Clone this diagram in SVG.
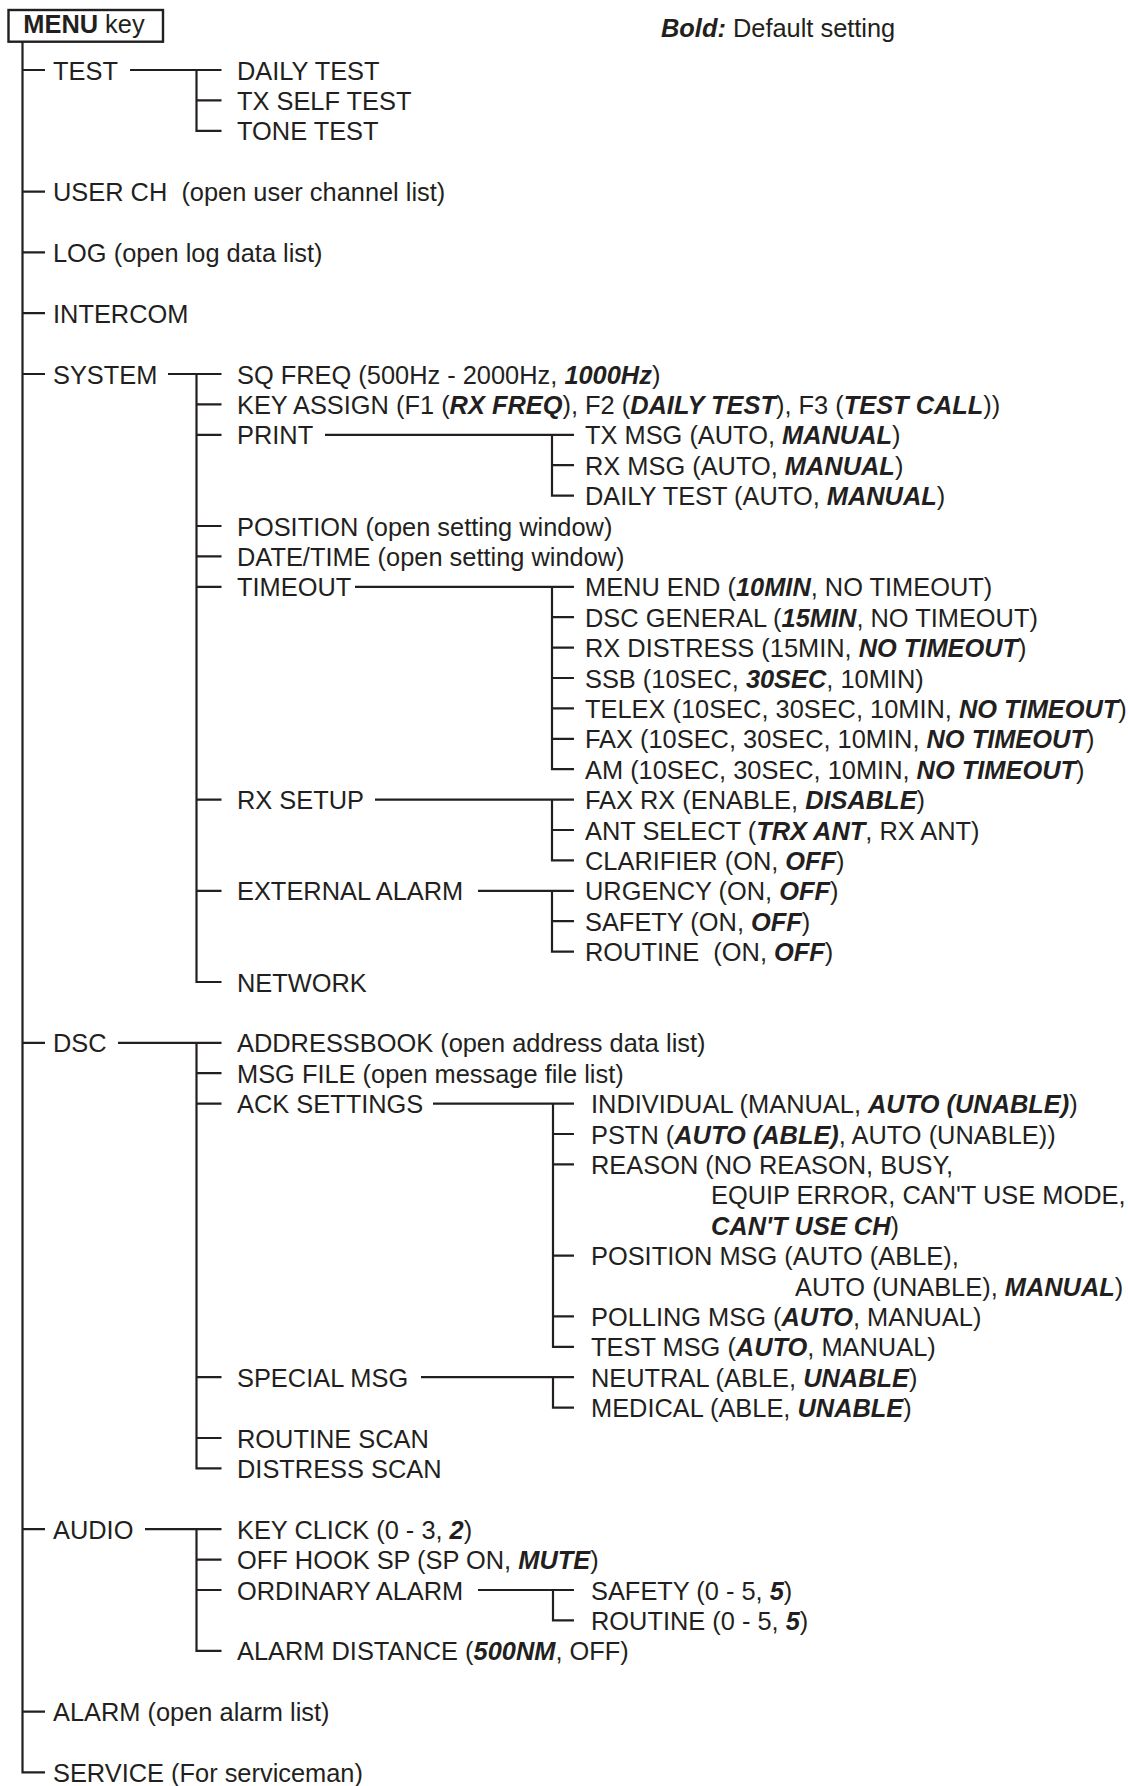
<svg xmlns="http://www.w3.org/2000/svg" width="1128" height="1786" viewBox="0 0 1128 1786">
<style>
text{font-family:"Liberation Sans",Arial,Helvetica,sans-serif;font-size:25.4px;fill:#231f20;white-space:pre}
.b{font-weight:bold;font-style:italic}
.bn{font-weight:bold}
.ln{fill:none;stroke:#231f20;stroke-width:2.2}
.box{fill:#fff;stroke:#231f20;stroke-width:2.4}
</style>
<rect width="1128" height="1786" fill="#fff"/>
<g id="connectors" class="ln">
<path d="M22.5 41.7V1772.4H45M22.5 70H45M22.5 191.6H45M22.5 252.4H45M22.5 313.2H45M22.5 374H45M22.5 1042.8H45M22.5 1529.2H45M22.5 1711.6H45"/>
<path d="M130 70H221.5M196.5 70V130.8H221.5M196.5 100.4H221.5"/>
<path d="M168 374H221.5M196.5 374V982H221.5M196.5 404.4H221.5M196.5 434.8H221.5M196.5 526H221.5M196.5 556.4H221.5M196.5 586.8H221.5M196.5 799.6H221.5M196.5 890.8H221.5"/>
<path d="M325 434.8H574M552 434.8V495.6H574M552 465.2H574"/>
<path d="M355 586.8H574M552 586.8V769.2H574M552 617.2H574M552 647.6H574M552 678H574M552 708.4H574M552 738.8H574"/>
<path d="M375 799.6H574M552 799.6V860.4H574M552 830H574"/>
<path d="M478 890.8H574M552 890.8V951.6H574M552 921.2H574"/>
<path d="M118 1042.8H221.5M196.5 1042.8V1468.4H221.5M196.5 1073.2H221.5M196.5 1103.6H221.5M196.5 1377.2H221.5M196.5 1438H221.5"/>
<path d="M433 1103.6H574M553 1103.6V1346.8H574M553 1134H574M553 1164.4H574M553 1255.6H574M553 1316.4H574"/>
<path d="M421 1377.2H574M553 1377.2V1407.6H574"/>
<path d="M145 1529.2H221.5M196.5 1529.2V1650.8H221.5M196.5 1559.6H221.5M196.5 1590H221.5"/>
<path d="M478 1590H574M553 1590V1620.4H574"/>
</g>
<g id="menu-key"><rect class="box" x="8.5" y="10" width="154.5" height="31.7"/><text x="23.3" y="33.3"><tspan class="bn">MENU</tspan> key</text></g>
<g id="legend"><text x="661" y="37"><tspan class="b">Bold:</tspan> Default setting</text></g>
<g id="test"><text x="53" y="79.5">TEST</text></g>
<g id="test-daily"><text x="237" y="79.5">DAILY TEST</text></g>
<g id="test-txself"><text x="237" y="109.9">TX SELF TEST</text></g>
<g id="test-tone"><text x="237" y="140.3">TONE TEST</text></g>
<g id="userch"><text x="53" y="201.1">USER CH  (open user channel list)</text></g>
<g id="log"><text x="53" y="261.9">LOG (open log data list)</text></g>
<g id="intercom"><text x="53" y="322.7">INTERCOM</text></g>
<g id="system"><text x="53" y="383.5">SYSTEM</text></g>
<g id="sq-freq"><text x="237" y="383.5">SQ FREQ (500Hz - 2000Hz, <tspan class="b">1000Hz</tspan>)</text></g>
<g id="key-assign"><text x="237" y="413.9">KEY ASSIGN (F1 (<tspan class="b">RX FREQ</tspan>), F2 (<tspan class="b">DAILY TEST</tspan>), F3 (<tspan class="b">TEST CALL</tspan>))</text></g>
<g id="print"><text x="237" y="444.3">PRINT</text></g>
<g id="print-tx"><text x="585" y="444.3">TX MSG (AUTO, <tspan class="b">MANUAL</tspan>)</text></g>
<g id="print-rx"><text x="585" y="474.7">RX MSG (AUTO, <tspan class="b">MANUAL</tspan>)</text></g>
<g id="print-daily"><text x="585" y="505.1">DAILY TEST (AUTO, <tspan class="b">MANUAL</tspan>)</text></g>
<g id="position"><text x="237" y="535.5">POSITION (open setting window)</text></g>
<g id="datetime"><text x="237" y="565.9">DATE/TIME (open setting window)</text></g>
<g id="timeout"><text x="237" y="596.3">TIMEOUT</text></g>
<g id="to-menuend"><text x="585" y="596.3">MENU END (<tspan class="b">10MIN</tspan>, NO TIMEOUT)</text></g>
<g id="to-dscgen"><text x="585" y="626.7">DSC GENERAL (<tspan class="b">15MIN</tspan>, NO TIMEOUT)</text></g>
<g id="to-rxdist"><text x="585" y="657.1">RX DISTRESS (15MIN, <tspan class="b">NO TIMEOUT</tspan>)</text></g>
<g id="to-ssb"><text x="585" y="687.5">SSB (10SEC, <tspan class="b">30SEC</tspan>, 10MIN)</text></g>
<g id="to-telex"><text x="585" y="717.9">TELEX (10SEC, 30SEC, 10MIN, <tspan class="b">NO TIMEOUT</tspan>)</text></g>
<g id="to-fax"><text x="585" y="748.3">FAX (10SEC, 30SEC, 10MIN, <tspan class="b">NO TIMEOUT</tspan>)</text></g>
<g id="to-am"><text x="585" y="778.7">AM (10SEC, 30SEC, 10MIN, <tspan class="b">NO TIMEOUT</tspan>)</text></g>
<g id="rxsetup"><text x="237" y="809.1">RX SETUP</text></g>
<g id="rx-faxrx"><text x="585" y="809.1">FAX RX (ENABLE, <tspan class="b">DISABLE</tspan>)</text></g>
<g id="rx-ant"><text x="585" y="839.5">ANT SELECT (<tspan class="b">TRX ANT</tspan>, RX ANT)</text></g>
<g id="rx-clar"><text x="585" y="869.9">CLARIFIER (ON, <tspan class="b">OFF</tspan>)</text></g>
<g id="extalarm"><text x="237" y="900.3">EXTERNAL ALARM</text></g>
<g id="ea-urgency"><text x="585" y="900.3">URGENCY (ON, <tspan class="b">OFF</tspan>)</text></g>
<g id="ea-safety"><text x="585" y="930.7">SAFETY (ON, <tspan class="b">OFF</tspan>)</text></g>
<g id="ea-routine"><text x="585" y="961.1">ROUTINE  (ON, <tspan class="b">OFF</tspan>)</text></g>
<g id="network"><text x="237" y="991.5">NETWORK</text></g>
<g id="dsc"><text x="53" y="1052.3">DSC</text></g>
<g id="addressbook"><text x="237" y="1052.3">ADDRESSBOOK (open address data list)</text></g>
<g id="msgfile"><text x="237" y="1082.7">MSG FILE (open message file list)</text></g>
<g id="ack"><text x="237" y="1113.1">ACK SETTINGS</text></g>
<g id="ack-individual"><text x="591" y="1113.1">INDIVIDUAL (MANUAL, <tspan class="b">AUTO (UNABLE)</tspan>)</text></g>
<g id="ack-pstn"><text x="591" y="1143.5">PSTN (<tspan class="b">AUTO (ABLE)</tspan>, AUTO (UNABLE))</text></g>
<g id="ack-reason"><text x="591" y="1173.9">REASON (NO REASON, BUSY,</text><text x="711" y="1204.3">EQUIP ERROR, CAN'T USE MODE,</text><text x="711" y="1234.7"><tspan class="b">CAN'T USE CH</tspan>)</text></g>
<g id="ack-position"><text x="591" y="1265.1">POSITION MSG (AUTO (ABLE),</text><text x="795" y="1295.5">AUTO (UNABLE), <tspan class="b">MANUAL</tspan>)</text></g>
<g id="ack-polling"><text x="591" y="1325.9">POLLING MSG (<tspan class="b">AUTO</tspan>, MANUAL)</text></g>
<g id="ack-test"><text x="591" y="1356.3">TEST MSG (<tspan class="b">AUTO</tspan>, MANUAL)</text></g>
<g id="special"><text x="237" y="1386.7">SPECIAL MSG</text></g>
<g id="sp-neutral"><text x="591" y="1386.7">NEUTRAL (ABLE, <tspan class="b">UNABLE</tspan>)</text></g>
<g id="sp-medical"><text x="591" y="1417.1">MEDICAL (ABLE, <tspan class="b">UNABLE</tspan>)</text></g>
<g id="routine-scan"><text x="237" y="1447.5">ROUTINE SCAN</text></g>
<g id="distress-scan"><text x="237" y="1477.9">DISTRESS SCAN</text></g>
<g id="audio"><text x="53" y="1538.7">AUDIO</text></g>
<g id="keyclick"><text x="237" y="1538.7">KEY CLICK (0 - 3, <tspan class="b">2</tspan>)</text></g>
<g id="offhook"><text x="237" y="1569.1">OFF HOOK SP (SP ON, <tspan class="b">MUTE</tspan>)</text></g>
<g id="ordinary"><text x="237" y="1599.5">ORDINARY ALARM</text></g>
<g id="oa-safety"><text x="591" y="1599.5">SAFETY (0 - 5, <tspan class="b">5</tspan>)</text></g>
<g id="oa-routine"><text x="591" y="1629.9">ROUTINE (0 - 5, <tspan class="b">5</tspan>)</text></g>
<g id="alarmdist"><text x="237" y="1660.3">ALARM DISTANCE (<tspan class="b">500NM</tspan>, OFF)</text></g>
<g id="alarm"><text x="53" y="1721.1">ALARM (open alarm list)</text></g>
<g id="service"><text x="53" y="1781.9">SERVICE (For serviceman)</text></g>
</svg>
